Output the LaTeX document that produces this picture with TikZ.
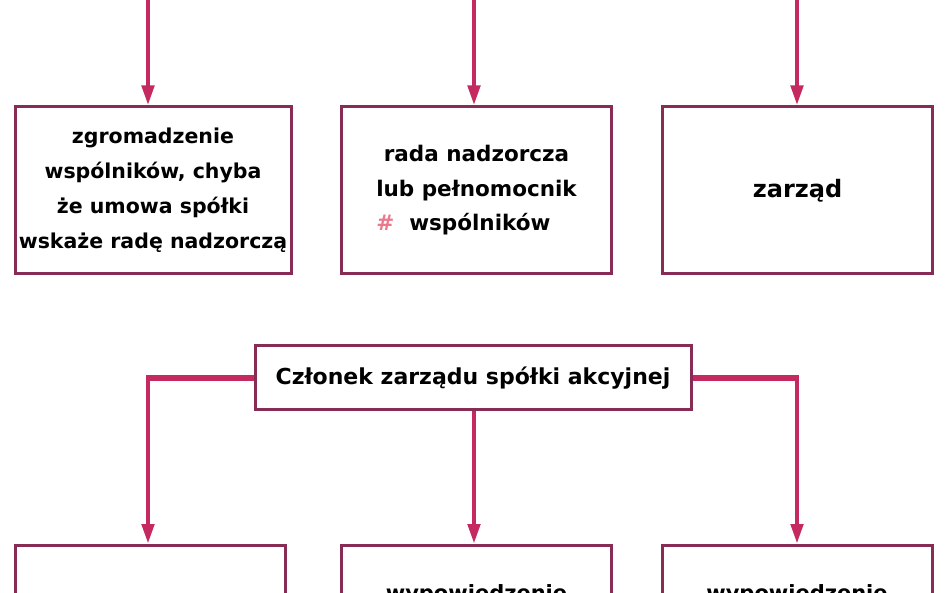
\documentclass[tikz,border=0pt]{standalone}
\usepackage{fontspec}
\usepackage{calc}
\setmainfont{DejaVu Sans}
\usetikzlibrary{arrows.meta}
\definecolor{arr}{RGB}{196,42,96}
\definecolor{bord}{RGB}{135,45,85}
\definecolor{hashc}{RGB}{235,120,140}
\tikzset{
  box/.style={draw=bord,line width=3pt,fill=white,minimum width=270pt,minimum height=167pt,inner sep=2pt,align=center,font=\fontsize{20.5}{35}\selectfont\bfseries},
  midbox/.style={draw=bord,line width=3pt,fill=white,minimum width=436pt,minimum height=64pt,inner sep=4pt,font=\fontsize{22}{24}\selectfont\bfseries},
  conn/.style={draw=arr,line width=4.5pt,-{Triangle[width=12pt,length=20pt]}},
  bar/.style={draw=arr,line width=6pt}
}
\begin{document}
\begin{tikzpicture}[x=1pt,y=-1pt]
\useasboundingbox (0,0) rectangle (948,593);
% top row
\node[box,minimum width=276pt] (a1) at (153,190.5) {zgromadzenie\\wspólników, chyba\\że umowa spółki\\wskaże radę nadzorczą};
\node[box,font=\fontsize{21.5}{34.5}\selectfont\bfseries] (a2) at (476.5,190.5) {rada nadzorcza\\lub pełnomocnik\\\makebox[\widthof{lub pełnomocnik}][l]{\textcolor{hashc}{\#}\ \ wspólników}};
\node[box,font=\fontsize{24}{30}\selectfont\bfseries] (a3) at (797.5,190.5) {zarząd};
\coordinate (t1) at (148,-10);
\coordinate (t2) at (474,-10);
\coordinate (t3) at (797,-10);
\draw[conn] (t1) -- (t1 |- a1.north);
\draw[conn] (t2) -- (t2 |- a2.north);
\draw[conn] (t3) -- (t3 |- a3.north);
% middle
\node[midbox] (m) at (473,378) {Członek zarządu spółki akcyjnej};
% bottom row
\node[box] (b1) at (150,629) {};
\node[box] (b2) at (476.5,629) {};
\node[box] (b3) at (797,629) {};
\node[font=\fontsize{21}{24}\selectfont\bfseries,anchor=base] (w2) at (476.5,600) {wypowiedzenie};
\node[font=\fontsize{21}{24}\selectfont\bfseries,anchor=base] (w3) at (797,600) {wypowiedzenie};
\coordinate (l0) at (145.75,378);
\coordinate (r0) at (799.25,378);
\coordinate (l1) at (148,375);
\coordinate (r1) at (797,375);
\draw[bar] (m.west) -- (l0);
\draw[bar] (m.east) -- (r0);
\draw[conn] (l1) -- (l1 |- b1.north);
\draw[conn] (r1) -- (r1 |- b3.north);
\draw[conn] (m.south -| t2) -- (t2 |- b2.north);
\end{tikzpicture}
\end{document}
